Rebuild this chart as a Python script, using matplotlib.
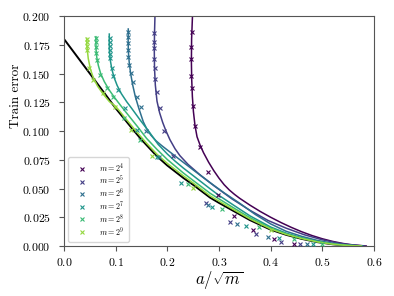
import matplotlib
matplotlib.use('Agg')

import matplotlib.pyplot as plt
import numpy as np

plt.rcParams['font.family'] = 'serif'
plt.rcParams['font.serif'] = ['cmr10']
plt.rcParams['mathtext.fontset'] = 'cm'
plt.rcParams['axes.formatter.use_mathtext'] = True

# exponentes de m
expos = [4, 5, 6, 7, 8, 9]

# curva limite (negra)
lim_x = [0.0, 0.05, 0.10, 0.134, 0.15, 0.18, 0.20, 0.231, 0.25, 0.283, 0.30, 0.33,
         0.36, 0.40, 0.43, 0.46, 0.49, 0.52, 0.55, 0.575]
lim_y = [0.180, 0.150, 0.1198, 0.101, 0.0925, 0.0780, 0.0700, 0.0592, 0.0532, 0.0420,
         0.0375, 0.0300, 0.0225, 0.0142, 0.0097, 0.0062, 0.0034, 0.0015, 0.0004, 0.0]

# curvas teoricas por m
teo_x = {
    4: [0.2487, 0.2470, 0.2466, 0.2472, 0.2485, 0.2505, 0.2535, 0.2575, 0.2632, 0.27,
        0.28, 0.29, 0.30, 0.31, 0.32, 0.33, 0.34, 0.36, 0.38, 0.40, 0.42, 0.44, 0.46,
        0.48, 0.50, 0.52, 0.54, 0.56, 0.585],
    5: [0.1761, 0.1752, 0.1748, 0.1752, 0.1768, 0.1800, 0.1850, 0.1910, 0.1970, 0.2050,
        0.2150, 0.2245, 0.2400, 0.2630, 0.2900, 0.3250, 0.3600, 0.3950, 0.4300, 0.4650,
        0.5000, 0.5300, 0.5550, 0.5820],
    6: [0.1244, 0.1242, 0.1246, 0.1262, 0.1290, 0.1330, 0.1380, 0.1450, 0.1535, 0.160,
        0.168, 0.178, 0.19, 0.20, 0.225, 0.25, 0.28, 0.31, 0.34, 0.37, 0.40, 0.43, 0.46,
        0.49, 0.52, 0.55, 0.578],
    7: [0.0877, 0.0876, 0.0880, 0.0895, 0.0925, 0.0970, 0.1030, 0.1110, 0.1213, 0.131,
        0.148, 0.165, 0.182, 0.20, 0.215, 0.231, 0.25, 0.283, 0.30, 0.33, 0.36, 0.40,
        0.43, 0.46, 0.49, 0.52, 0.55, 0.577],
    8: [0.0619, 0.0619, 0.0622, 0.0635, 0.0665, 0.0710, 0.0780, 0.0870, 0.0980, 0.1100,
        0.1250, 0.1420, 0.16, 0.18, 0.20, 0.231, 0.25, 0.283, 0.30, 0.33, 0.36, 0.40,
        0.43, 0.46, 0.49, 0.52, 0.55, 0.576],
    9: [0.0439, 0.0441, 0.0450, 0.0470, 0.0510, 0.0570, 0.0650, 0.0760, 0.0880, 0.10,
        0.12, 0.14, 0.16, 0.18, 0.20, 0.231, 0.25, 0.283, 0.30, 0.33, 0.36, 0.40, 0.43,
        0.46, 0.49, 0.52, 0.55, 0.575],
}
teo_y = {
    4: [0.200, 0.180, 0.160, 0.145, 0.130, 0.117, 0.105, 0.095, 0.0880, 0.0812,
        0.0728, 0.0655, 0.0590, 0.0533, 0.0487, 0.0449, 0.0415, 0.0355, 0.0300, 0.0250,
        0.0204, 0.0162, 0.0124, 0.0091, 0.0063, 0.0040, 0.0022, 0.0009, 0.0],
    5: [0.200, 0.185, 0.170, 0.155, 0.140, 0.126, 0.116, 0.1075, 0.1005, 0.0925,
        0.0845, 0.0785, 0.0710, 0.0620, 0.0525, 0.0410, 0.0310, 0.0222, 0.0155, 0.0098,
        0.0054, 0.0026, 0.0010, 0.0],
    6: [0.1887, 0.1780, 0.1690, 0.1600, 0.1500, 0.1400, 0.1300, 0.1195, 0.1080, 0.1020,
        0.0965, 0.0915, 0.0870, 0.0835, 0.0748, 0.0662, 0.0560, 0.0462, 0.0372, 0.0275,
        0.0192, 0.0128, 0.0084, 0.0049, 0.0023, 0.0007, 0.0],
    7: [0.1843, 0.1770, 0.1700, 0.1620, 0.1540, 0.1465, 0.1395, 0.1325, 0.1255, 0.1197,
        0.1092, 0.0992, 0.0885, 0.0800, 0.0738, 0.0678, 0.0612, 0.0497, 0.0440, 0.0350,
        0.0262, 0.0165, 0.0112, 0.0072, 0.0041, 0.0019, 0.0006, 0.0],
    8: [0.1820, 0.1760, 0.1700, 0.1640, 0.1570, 0.1500, 0.1430, 0.1360, 0.1290, 0.1220,
        0.1135, 0.1040, 0.0935, 0.0840, 0.0752, 0.0635, 0.0570, 0.0458, 0.0410, 0.0327,
        0.0246, 0.0155, 0.0106, 0.0068, 0.0038, 0.0017, 0.0005, 0.0],
    9: [0.1806, 0.1760, 0.1710, 0.1630, 0.1540, 0.1460, 0.1390, 0.1320, 0.1255, 0.1215,
        0.1105, 0.0996, 0.0893, 0.0798, 0.0718, 0.0610, 0.0548, 0.0435, 0.0390, 0.0312,
        0.0235, 0.0148, 0.0101, 0.0065, 0.0036, 0.0016, 0.0004, 0.0],
}

# puntos experimentales
exp_x = {
    4: [0.247, 0.246, 0.246, 0.246, 0.247, 0.249, 0.254, 0.263, 0.278, 0.299, 0.330,
        0.366, 0.407, 0.446],
    5: [0.1748, 0.1748, 0.1748, 0.1748, 0.1761, 0.1761, 0.1794, 0.1858, 0.1942, 0.2116,
        0.274, 0.3213, 0.3716, 0.42, 0.4567],
    6: [0.1244, 0.1244, 0.1244, 0.1244, 0.1244, 0.1264, 0.1291, 0.1330, 0.1419, 0.1485,
        0.1587, 0.1839, 0.278, 0.334, 0.3955, 0.4697],
    7: [0.0881, 0.0881, 0.0881, 0.0881, 0.0884, 0.089, 0.0929, 0.0954, 0.1051, 0.1181,
        0.1413, 0.1794, 0.2264, 0.2858, 0.3517, 0.4161, 0.4819],
    8: [0.0619, 0.0619, 0.0619, 0.0625, 0.0639, 0.0697, 0.0826, 0.0948, 0.1161, 0.147,
        0.2394, 0.305, 0.378, 0.4457, 0.4987],
    9: [0.0439, 0.0439, 0.0445, 0.0451, 0.049, 0.0567, 0.076, 0.0987, 0.13, 0.17,
        0.2503, 0.4006],
}
exp_y = {
    4: [0.186, 0.173, 0.163, 0.148, 0.137, 0.122, 0.104, 0.086, 0.064, 0.044, 0.026,
        0.014, 0.006, 0.0017],
    5: [0.1855, 0.1776, 0.1719, 0.1623, 0.1545, 0.1449, 0.1342, 0.1197, 0.1003, 0.0783,
        0.0371, 0.0211, 0.0104, 0.0037, 0.0015],
    6: [0.1863, 0.1820, 0.1763, 0.1704, 0.1646, 0.1574, 0.1502, 0.1429, 0.1293, 0.1211,
        0.1000, 0.0771, 0.0357, 0.0188, 0.0081, 0.0015],
    7: [0.1809, 0.1774, 0.1739, 0.1704, 0.167, 0.1635, 0.1548, 0.1478, 0.1357, 0.12,
        0.1009, 0.0771, 0.055, 0.0342, 0.0174, 0.0067, 0.0015],
    8: [0.1809, 0.1774, 0.1730, 0.1678, 0.1617, 0.1487, 0.1371, 0.1296, 0.1113, 0.0922,
        0.0537, 0.0319, 0.0162, 0.0058, 0.0015],
    9: [0.1800, 0.1770, 0.1740, 0.1704, 0.1545, 0.1443, 0.1328, 0.1211, 0.1010, 0.078,
        0.0502, 0.0139],
}

colores = plt.cm.viridis([0.0, 0.18, 0.36, 0.52, 0.68, 0.84])

fig = plt.figure(figsize=(3.94, 2.96), dpi=100)
ax = fig.add_axes([0.1624, 0.1689, 0.7868, 0.777])

ax.plot(lim_x, lim_y, color='black', lw=1.4, zorder=1)
for k, c in zip(expos, colores):
    ax.plot(teo_x[k], teo_y[k], color=c, lw=1.1, zorder=2)
    ax.plot(exp_x[k], exp_y[k], 'x', color=c, ms=3, mew=0.8, zorder=3,
            label=r'$m = 2^{%d}$' % k)

ax.set_xlim(0, 0.6)
ax.set_ylim(0, 0.2)
ax.set_xticks(np.arange(0, 0.61, 0.1))
ax.set_yticks(np.arange(0, 0.201, 0.025))
ax.tick_params(labelsize=8.5, color='#555555')
ax.tick_params(axis='y', pad=6)
for s in ax.spines.values():
    s.set_color('#555555')
ax.set_xlabel(r'$a/\sqrt{m}$', fontsize=12, labelpad=1)
ax.set_ylabel('Train error', fontsize=9.5)
ax.yaxis.set_label_coords(-0.135, 0.655)
ax.legend(loc='lower left', fontsize=5.8, handlelength=2.4, handletextpad=1.0,
          labelspacing=0.0, markerscale=0.9, borderaxespad=0.5, borderpad=0.5)

fig.savefig('out.png', dpi=100)
